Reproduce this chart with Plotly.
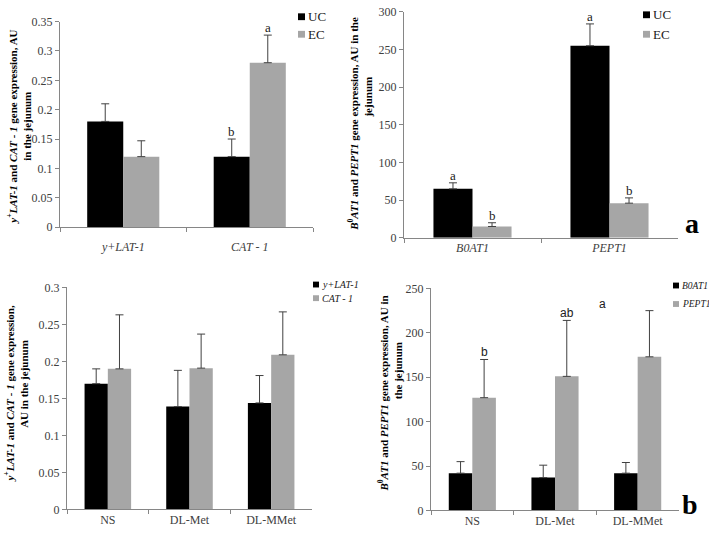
import plotly.graph_objects as go

W, H = 709, 535

# ---- Data ----
top_left_cats = ["y+LAT-1", "CAT - 1"]
top_left_ticks = ["<i>y+LAT-1</i>", "<i>CAT - 1</i>"]
tl_uc = [0.18, 0.12]
tl_uc_err = [0.03, 0.03]
tl_ec = [0.12, 0.28]
tl_ec_err = [0.027, 0.047]
tl_uc_letters = ["", "b"]
tl_ec_letters = ["", "a"]

top_right_cats = ["B0AT1", "PEPT1"]
top_right_ticks = ["<i>B0AT1</i>", "<i>PEPT1</i>"]
tr_uc = [65, 255]
tr_uc_err = [8, 29]
tr_ec = [15, 46]
tr_ec_err = [5, 7]
tr_uc_letters = ["a", "a"]
tr_ec_letters = ["b", "b"]

bottom_cats = ["NS", "DL-Met", "DL-MMet"]
bl_ylat = [0.17, 0.139, 0.144]
bl_ylat_err = [0.02, 0.049, 0.037]
bl_cat = [0.19, 0.191, 0.209]
bl_cat_err = [0.073, 0.046, 0.058]

br_b0at1 = [42, 37, 42]
br_b0at1_err = [13, 14, 12]
br_pept1 = [127, 151, 173]
br_pept1_err = [43, 63, 52]
br_pept1_letters = ["b", "ab", "a"]

DARK = "#000000"
LIGHT = "#a6a6a6"
SERIF = "Liberation Serif, Times New Roman, serif"
BARGAP = 0.43

def px_dom_x(a, b):
    return [a / W, b / W]

def px_dom_y(top, bottom):
    return [1 - bottom / H, 1 - top / H]

doms = {
    "1": (px_dom_x(60, 313), px_dom_y(15, 226)),
    "2": (px_dom_x(404, 678), px_dom_y(5, 237)),
    "3": (px_dom_x(67, 312), px_dom_y(288, 516)),
    "4": (px_dom_x(431, 679), px_dom_y(289, 517)),
}

fig = go.Figure()

def err(arr):
    return dict(type="data", array=arr, arrayminus=[0] * len(arr), symmetric=False,
                color="#404040", thickness=1, width=4, visible=True)

def add_bar(name, x, y, e, color, ax):
    fig.add_trace(go.Bar(
        name=name, x=x, y=y, error_y=err(e), marker=dict(color=color, line=dict(width=0)),
        xaxis="x" if ax == "1" else "x" + ax, yaxis="y" if ax == "1" else "y" + ax,
        showlegend=False,
    ))

add_bar("UC", top_left_cats, tl_uc, tl_uc_err, DARK, "1")
add_bar("EC", top_left_cats, tl_ec, tl_ec_err, LIGHT, "1")
add_bar("UC", top_right_cats, tr_uc, tr_uc_err, DARK, "2")
add_bar("EC", top_right_cats, tr_ec, tr_ec_err, LIGHT, "2")
add_bar("y+LAT-1", bottom_cats, bl_ylat, bl_ylat_err, DARK, "3")
add_bar("CAT - 1", bottom_cats, bl_cat, bl_cat_err, LIGHT, "3")
add_bar("B0AT1", bottom_cats, br_b0at1, br_b0at1_err, DARK, "4")
add_bar("PEPT1", bottom_cats, br_pept1, br_pept1_err, LIGHT, "4")

tickfont = dict(family=SERIF, size=12, color="#404040")
axcol = "#868686"

def xaxis(ax, cats, ticks, standoff):
    return dict(domain=doms[ax][0], anchor="y" if ax == "1" else "y" + ax,
                type="category", tickvals=cats, ticktext=ticks,
                showline=True, linecolor=axcol, linewidth=1,
                ticks="outside", tickson="boundaries", ticklen=4, tickcolor=axcol,
                tickfont=tickfont, showgrid=False, zeroline=False, fixedrange=True,
                ticklabelstandoff=standoff)

def yaxis(ax, rng, dtick):
    return dict(domain=doms[ax][1], anchor="x" if ax == "1" else "x" + ax,
                range=rng, dtick=dtick, showline=True, linecolor=axcol, linewidth=1,
                ticks="outside", ticklen=4, tickcolor=axcol, tickfont=tickfont,
                showgrid=False, zeroline=False, fixedrange=True)

annotations = []
shapes = []

def letters(ax, cats, vals, errs, labels, side, font, extra=None):
    ncat = len(cats)
    wpx = (doms[ax][0][1] - doms[ax][0][0]) * W
    shift = wpx / ncat * (1 - BARGAP) / 4
    extra = extra or [0] * ncat
    for c, v, e, t, dx in zip(cats, vals, errs, labels, extra):
        if not t:
            continue
        annotations.append(dict(
            x=c, y=v + e, xref="x" if ax == "1" else "x" + ax, yref="y" if ax == "1" else "y" + ax,
            text=t, showarrow=False, yanchor="bottom", xanchor="center",
            xshift=side * shift + dx, yshift=-2, font=font))

serif_font = dict(family=SERIF, size=13, color="#202020")
sans_font = dict(family="Liberation Sans, Arial, sans-serif", size=12, color="#202020")
letters("1", top_left_cats, tl_uc, tl_uc_err, tl_uc_letters, -1, serif_font)
letters("1", top_left_cats, tl_ec, tl_ec_err, tl_ec_letters, 1, serif_font)
letters("2", top_right_cats, tr_uc, tr_uc_err, tr_uc_letters, -1, serif_font)
letters("2", top_right_cats, tr_ec, tr_ec_err, tr_ec_letters, 1, serif_font)
letters("4", bottom_cats, br_pept1, br_pept1_err, br_pept1_letters, 1, sans_font, [0, 0, -47])

title_font = dict(family=SERIF, size=11, color="#000000")

def vtitle(text, xpx, ypx):
    annotations.append(dict(x=xpx / W, y=1 - ypx / H, xref="paper", yref="paper",
                            text=text, textangle=-90, showarrow=False,
                            xanchor="center", yanchor="middle", font=title_font))

vtitle("<b><i>y</i><sup>+</sup><i>LAT-1</i> and <i>CAT - 1</i> gene expression, AU</b>", 12, 124)
vtitle("<b>in the jejunum</b>", 27, 123)
vtitle("<b><i>B</i><sup>0</sup><i>AT1</i> and <i>PEPT1</i> gene expression, AU in the</b>", 353, 120)
vtitle("<b>jejunum</b>", 368, 93)
vtitle("<b><i>y</i><sup>+</sup><i>LAT-1</i> and <i>CAT - 1</i> gene expression,</b>", 9, 398)
vtitle("<b>AU in the jejunum</b>", 24, 387)
vtitle("<b><i>B</i><sup>0</sup><i>AT1</i> and <i>PEPT1</i> gene expression, AU in</b>", 383, 397)
vtitle("<b>the jejunum</b>", 398, 374)

panel_font = dict(family=SERIF, size=28, color="#000000")
annotations.append(dict(x=692 / W, y=1 - 222 / H, xref="paper", yref="paper", text="<b>a</b>",
                        showarrow=False, xanchor="center", yanchor="middle", font=panel_font))
annotations.append(dict(x=690 / W, y=1 - 511 / H, xref="paper", yref="paper", text="<b>b</b>",
                        showarrow=False, xanchor="center", yanchor="middle", font=panel_font))

# ---- legends (square swatch + text), built from the trace names/colours ----
def legend(ax, xpx, ypx, gap, size, sq, italic):
    items = [(t.name, t.marker.color) for t in fig.data
             if t.xaxis == ("x" if ax == "1" else "x" + ax)]
    for i, (name, color) in enumerate(items):
        cy = ypx + i * gap
        shapes.append(dict(type="rect", xref="paper", yref="paper",
                           x0=(xpx - sq - 1) / W, x1=(xpx - 1) / W,
                           y0=1 - (cy + sq / 2) / H, y1=1 - (cy - sq / 2) / H,
                           fillcolor=color, line=dict(width=0)))
        annotations.append(dict(x=xpx / W, y=1 - cy / H, xref="paper", yref="paper",
                                text=f"<i>{name}</i>" if italic else name,
                                showarrow=False, xanchor="left", yanchor="middle",
                                font=dict(family=SERIF, size=size, color="#202020")))

legend("1", 306, 10, 18, 13, 7, False)
legend("2", 651, 8, 20, 13, 7, False)
legend("3", 320, 285, 14, 10, 6, True)
legend("4", 680, 286, 19, 9.5, 6, True)

fig.update_layout(
    width=W, height=H,
    margin=dict(l=0, r=0, t=0, b=0),
    paper_bgcolor="white", plot_bgcolor="white",
    barmode="group", bargap=BARGAP, bargroupgap=0,
    showlegend=False,
    xaxis=xaxis("1", top_left_cats, top_left_ticks, 9),
    yaxis=yaxis("1", [0, 0.35], 0.05),
    xaxis2=xaxis("2", top_right_cats, top_right_ticks, -1),
    yaxis2=yaxis("2", [0, 300], 50),
    xaxis3=xaxis("3", bottom_cats, bottom_cats, -1),
    yaxis3=yaxis("3", [0, 0.3], 0.05),
    xaxis4=xaxis("4", bottom_cats, bottom_cats, -1),
    yaxis4=yaxis("4", [0, 250], 50),
    annotations=annotations,
    shapes=shapes,
)

fig.write_html("out.html", config={"displayModeBar": False},
               post_script="document.body.style.margin='0';")
